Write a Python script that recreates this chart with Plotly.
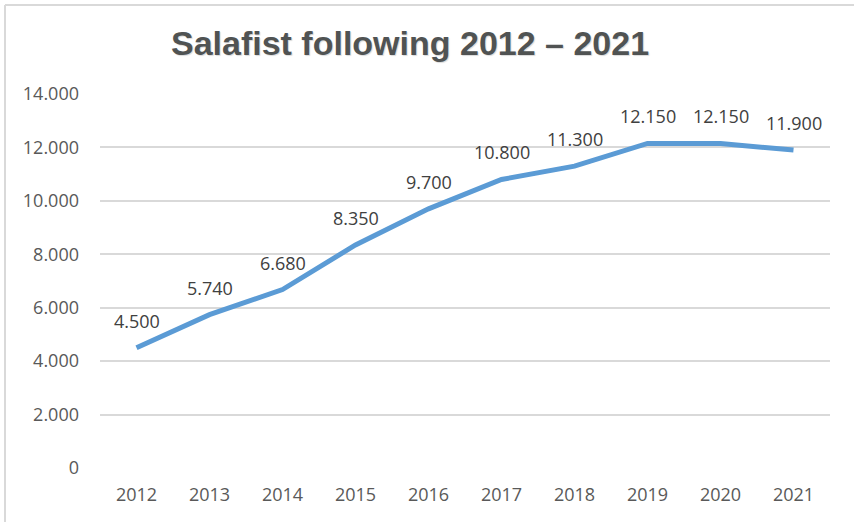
import plotly.graph_objects as go

years = ["2012", "2013", "2014", "2015", "2016", "2017", "2018", "2019", "2020", "2021"]
followers = [4500, 5740, 6680, 8350, 9700, 10800, 11300, 12150, 12150, 11900]
y_ticks = [0, 2000, 4000, 6000, 8000, 10000, 12000, 14000]
title_text = "Salafist following 2012 – 2021"

W, H = 854, 522
L, R, T, B = 100, 24, 94, 54
pw, ph = W - L - R, H - T - B

def px_x(p):
    return (p - L) / pw

def px_y(p):
    return (H - B - p) / ph

def fmt(v):
    return f"{v:,}".replace(",", ".")

xs = list(range(len(years)))

fig = go.Figure()
fig.add_trace(go.Scatter(
    x=xs, y=followers, mode="lines",
    line=dict(color="#5B9BD5", width=5),
    hoverinfo="skip", showlegend=False,
))

for xi, v in zip(xs, followers):
    fig.add_annotation(
        x=xi, y=v, text=fmt(v), showarrow=False, yshift=27,
        font=dict(family="Open Sans", size=18, color="#404040"),
    )

grey = "#D9D9D9"
fig.add_shape(type="line", xref="paper", yref="paper",
              x0=px_x(5), x1=px_x(W + 5), y0=px_y(5), y1=px_y(5),
              line=dict(color=grey, width=2))
fig.add_shape(type="line", xref="paper", yref="paper",
              x0=px_x(5), x1=px_x(5), y0=px_y(5), y1=px_y(H + 5),
              line=dict(color=grey, width=2))

fig.update_layout(
    width=W, height=H,
    margin=dict(l=L, r=R, t=T, b=B),
    paper_bgcolor="white", plot_bgcolor="white",
    title=dict(
        text=title_text, x=410 / W, xref="container", xanchor="center",
        y=1 - 43 / H, yref="container", yanchor="middle",
        font=dict(family="Liberation Sans", size=34, color="#505353",
                  weight="bold", shadow="1px 1px 1px rgba(0,0,0,0.15)"),
    ),
    xaxis=dict(
        range=[-0.5, len(years) - 0.5], tickvals=xs, ticktext=years,
        showgrid=False, zeroline=False, showline=False,
        ticks="", tickfont=dict(family="Open Sans", size=18, color="#595959"),
        ticklabelstandoff=14,
    ),
    yaxis=dict(
        range=[0, 14000], tickvals=y_ticks, ticktext=[fmt(v) for v in y_ticks],
        showgrid=True, gridcolor=grey, gridwidth=1.5, zeroline=False,
        showline=False, ticks="", ticklabelstandoff=20,
        tickfont=dict(family="Open Sans", size=18, color="#595959"),
    ),
)

fig.write_html("out.html")
